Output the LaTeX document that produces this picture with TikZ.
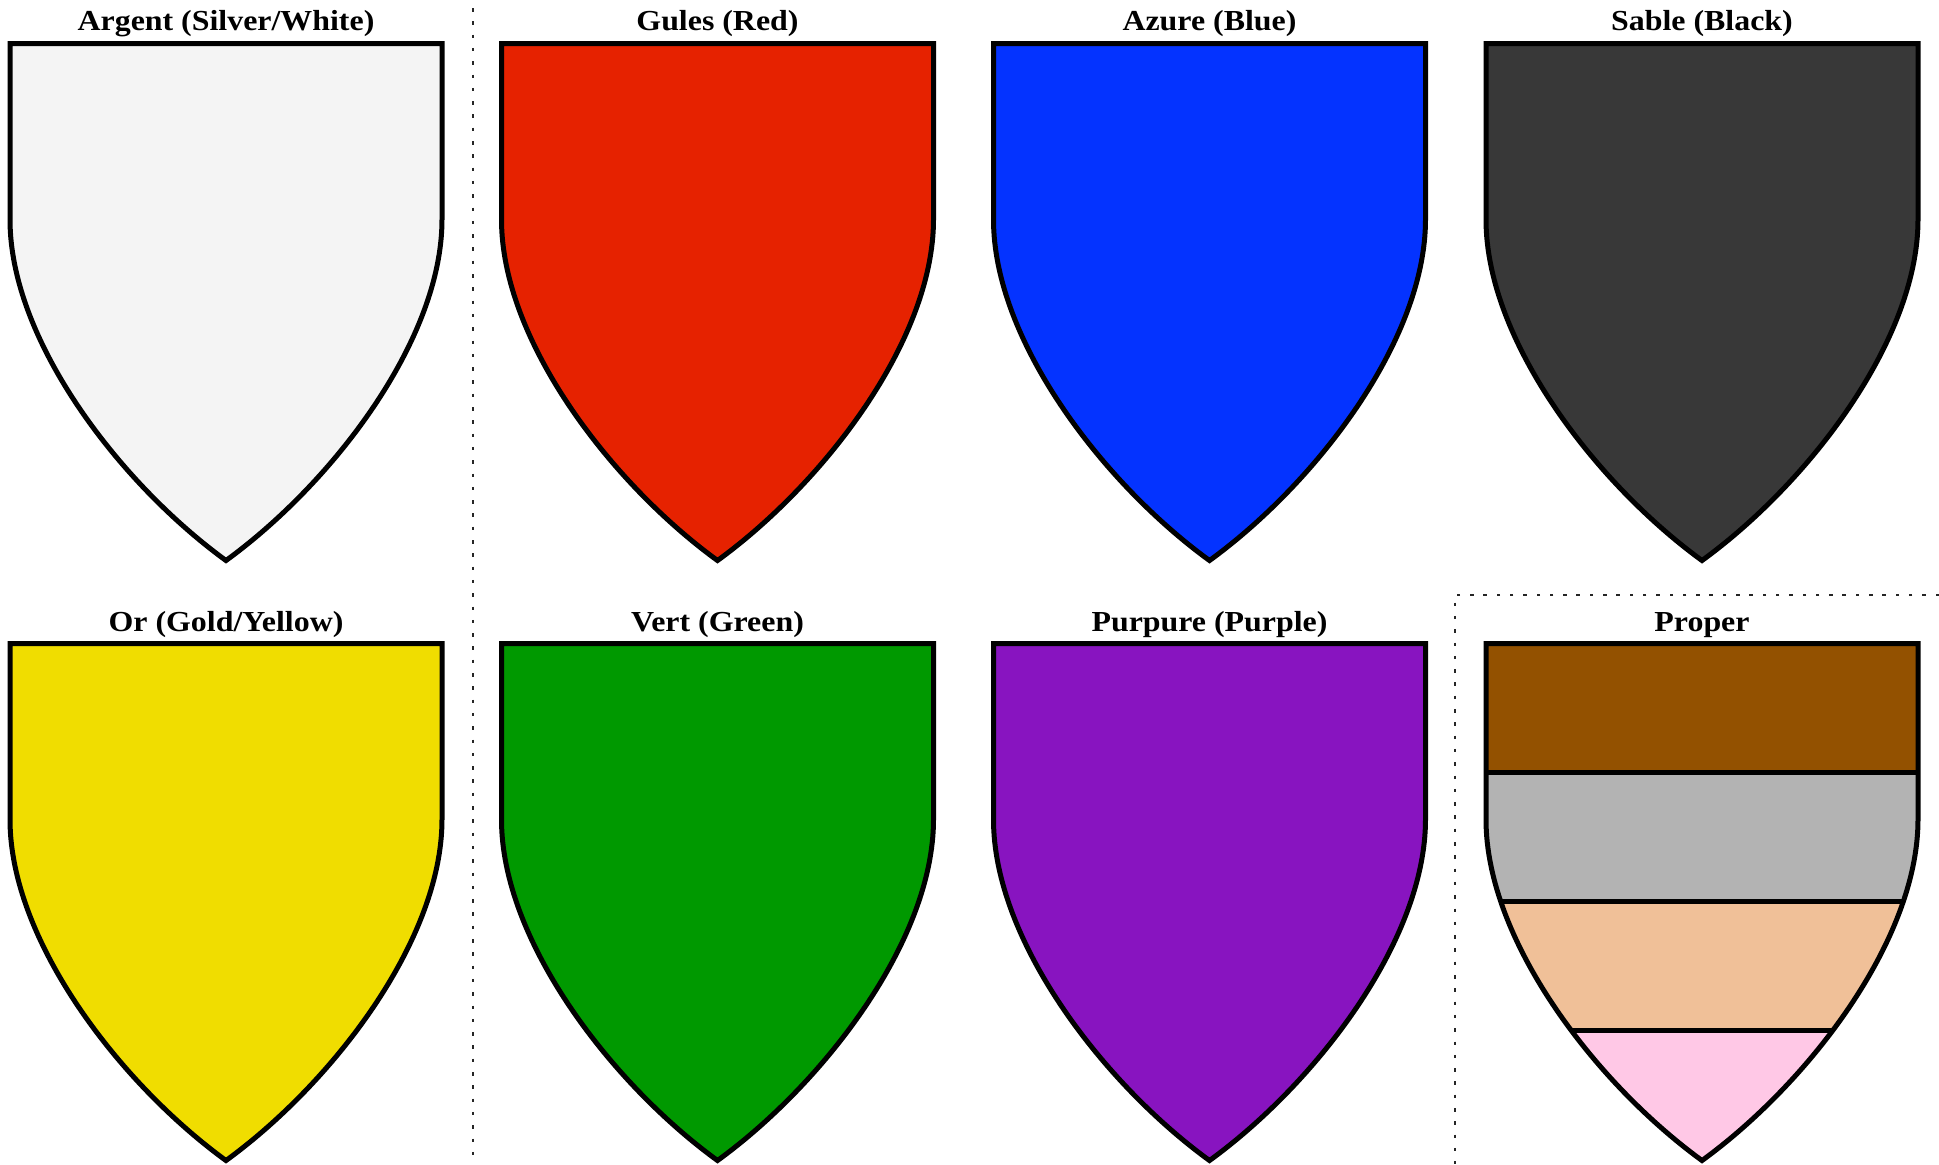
\documentclass[tikz,border=0pt]{standalone}
\usepackage{fontspec}
\setmainfont{Liberation Serif}[FakeStretch=1.1]
\definecolor{argentc}{RGB}{244,244,244}
\definecolor{gulesc}{RGB}{230,34,0}
\definecolor{azurec}{RGB}{4,51,255}
\definecolor{sablec}{RGB}{56,56,56}
\definecolor{orc}{RGB}{240,221,0}
\definecolor{vertc}{RGB}{0,153,0}
\definecolor{purpurec}{RGB}{136,20,192}
\definecolor{brownc}{RGB}{147,81,0}
\definecolor{greyc}{RGB}{179,179,179}
\definecolor{tanc}{RGB}{240,192,152}
\definecolor{pinkc}{RGB}{255,200,230}
\tikzset{
  shieldline/.style={draw=black, line width=5bp, miter limit=10},
  sepline/.style={draw=black!85, line width=2bp, dash pattern=on 3.5bp off 9.8bp},
  titletext/.style={font=\fontsize{29bp}{32bp}\selectfont\bfseries, anchor=base, inner sep=0pt},
}
% #1 left x, #2 top y
\newcommand{\shieldoutline}[2]{(#1,#2) -- ({#1+432},#2) -- ({#1+432},{#2+176})
  .. controls ({#1+432},{#2+297}) and ({#1+322},{#2+440}) .. ({#1+216},{#2+517})
  .. controls ({#1+110},{#2+440}) and (#1,{#2+297}) .. (#1,{#2+176}) -- cycle}
\newcommand{\heraldshield}[3]{\path[shieldline, fill=#3] \shieldoutline{#1}{#2};}
\begin{document}
\begin{tikzpicture}[x=1bp, y=-1bp]
\useasboundingbox (0,0) rectangle (1939,1164);
% separators
\coordinate (vtop) at (472.5,8);
\coordinate (vbot) at (472.5,1164);
\draw[sepline] (vtop) -- (vbot);
\coordinate (pr) at (1939,595);
\coordinate (pc) at (1454.5,595);
\coordinate (pb) at (1454.5,1164);
\draw[sepline] (pr) -- (pc) -- (pb);
% row 1
\heraldshield{10}{43.5}{argentc}
\heraldshield{501.5}{43.5}{gulesc}
\heraldshield{993.5}{43.5}{azurec}
\heraldshield{1486}{43.5}{sablec}
\node[titletext] (targent) at (226,30.5) {Argent (Silver/White)};
\node[titletext] (tgules) at (717.5,30.5) {Gules (Red)};
\node[titletext] (tazure) at (1209.5,30.5) {Azure (Blue)};
\node[titletext] (tsable) at (1702,30.5) {Sable (Black)};
% row 2
\heraldshield{10}{643.5}{orc}
\heraldshield{501.5}{643.5}{vertc}
\heraldshield{993.5}{643.5}{purpurec}
\node[titletext] (tor) at (226,631.5) {Or (Gold/Yellow)};
\node[titletext] (tvert) at (717.5,631.5) {Vert (Green)};
\node[titletext] (tpurpure) at (1209.5,631.5) {Purpure (Purple)};
\node[titletext] (tproper) at (1702,631.5) {Proper};
% proper shield
\begin{scope}
  \clip \shieldoutline{1486}{643.5};
  \fill[brownc] (1470,643.5) rectangle (1930,772.5);
  \fill[greyc] (1470,772.5) rectangle (1930,901.5);
  \fill[tanc] (1470,901.5) rectangle (1930,1030);
  \fill[pinkc] (1470,1030) rectangle (1930,1164);
  \draw[black, line width=5bp] (1470,772.5) -- (1930,772.5);
  \draw[black, line width=5bp] (1470,901.5) -- (1930,901.5);
  \draw[black, line width=5bp] (1470,1030) -- (1930,1030);
\end{scope}
\path[shieldline] \shieldoutline{1486}{643.5};
\end{tikzpicture}
\end{document}
